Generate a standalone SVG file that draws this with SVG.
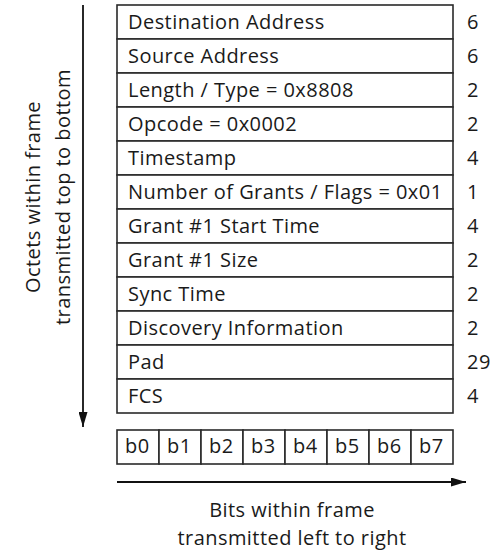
<svg xmlns="http://www.w3.org/2000/svg" width="493" height="550" viewBox="0 0 493 550">
  <style>
    .lbl { font-family: "Open Sans", "Liberation Sans", sans-serif; font-size: 20px; fill: #1a1a1a; letter-spacing: 0.45px; }
    .cell { fill: #ffffff; stroke: #2a2a2a; stroke-width: 1.6; }
    .axis { stroke: #111111; stroke-width: 1.8; fill: none; }
  </style>
  <defs>
    <marker id="head" viewBox="0 0 15 9" refX="15" refY="4.5" markerWidth="15" markerHeight="9" markerUnits="userSpaceOnUse" orient="auto">
      <path d="M0,0 L15,4.5 L0,9 Z" fill="#111111"/>
    </marker>
  </defs>

  <!-- frame fields, top to bottom, with octet counts -->
  <g id="field-destination-address"><rect class="cell" x="117" y="5" width="336" height="34"/><text class="lbl" x="128" y="29">Destination Address</text><text class="lbl" x="467" y="29">6</text></g>
  <g id="field-source-address"><rect class="cell" x="117" y="39" width="336" height="34"/><text class="lbl" x="128" y="63">Source Address</text><text class="lbl" x="467" y="63">6</text></g>
  <g id="field-length-type"><rect class="cell" x="117" y="73" width="336" height="34"/><text class="lbl" x="128" y="97">Length / Type = 0x8808</text><text class="lbl" x="467" y="97">2</text></g>
  <g id="field-opcode"><rect class="cell" x="117" y="107" width="336" height="34"/><text class="lbl" x="128" y="131">Opcode = 0x0002</text><text class="lbl" x="467" y="131">2</text></g>
  <g id="field-timestamp"><rect class="cell" x="117" y="141" width="336" height="34"/><text class="lbl" x="128" y="165">Timestamp</text><text class="lbl" x="467" y="165">4</text></g>
  <g id="field-grants-flags"><rect class="cell" x="117" y="175" width="336" height="34"/><text class="lbl" x="128" y="199">Number of Grants / Flags = 0x01</text><text class="lbl" x="467" y="199">1</text></g>
  <g id="field-grant1-start"><rect class="cell" x="117" y="209" width="336" height="34"/><text class="lbl" x="128" y="233">Grant #1 Start Time</text><text class="lbl" x="467" y="233">4</text></g>
  <g id="field-grant1-size"><rect class="cell" x="117" y="243" width="336" height="34"/><text class="lbl" x="128" y="267">Grant #1 Size</text><text class="lbl" x="467" y="267">2</text></g>
  <g id="field-sync-time"><rect class="cell" x="117" y="277" width="336" height="34"/><text class="lbl" x="128" y="301">Sync Time</text><text class="lbl" x="467" y="301">2</text></g>
  <g id="field-discovery-info"><rect class="cell" x="117" y="311" width="336" height="34"/><text class="lbl" x="128" y="335">Discovery Information</text><text class="lbl" x="467" y="335">2</text></g>
  <g id="field-pad"><rect class="cell" x="117" y="345" width="336" height="34"/><text class="lbl" x="128" y="369">Pad</text><text class="lbl" x="467" y="369">29</text></g>
  <g id="field-fcs"><rect class="cell" x="117" y="379" width="336" height="34"/><text class="lbl" x="128" y="403">FCS</text><text class="lbl" x="467" y="403">4</text></g>

  <!-- bit order row -->
  <g id="bits">
    <rect class="cell" x="117" y="430" width="42" height="34"/><text class="lbl" x="125" y="453">b0</text>
    <rect class="cell" x="159" y="430" width="42" height="34"/><text class="lbl" x="167" y="453">b1</text>
    <rect class="cell" x="201" y="430" width="42" height="34"/><text class="lbl" x="209" y="453">b2</text>
    <rect class="cell" x="243" y="430" width="42" height="34"/><text class="lbl" x="251" y="453">b3</text>
    <rect class="cell" x="285" y="430" width="42" height="34"/><text class="lbl" x="293" y="453">b4</text>
    <rect class="cell" x="327" y="430" width="42" height="34"/><text class="lbl" x="335" y="453">b5</text>
    <rect class="cell" x="369" y="430" width="42" height="34"/><text class="lbl" x="377" y="453">b6</text>
    <rect class="cell" x="411" y="430" width="42" height="34"/><text class="lbl" x="419" y="453">b7</text>
  </g>

  <!-- transmission-order arrows -->
  <g id="connectors">
    <line class="axis" x1="83" y1="5" x2="83" y2="427" marker-end="url(#head)"/>
    <line class="axis" x1="117" y1="482" x2="466" y2="482" marker-end="url(#head)"/>
  </g>

  <g id="octet-order-label">
    <text class="lbl" text-anchor="middle" transform="translate(40,197) rotate(-90)">Octets within frame</text>
    <text class="lbl" text-anchor="middle" transform="translate(70,197) rotate(-90)">transmitted top to bottom</text>
  </g>
  <g id="bit-order-label">
    <text class="lbl" text-anchor="middle" x="292" y="517">Bits within frame</text>
    <text class="lbl" text-anchor="middle" x="292" y="545">transmitted left to right</text>
  </g>
</svg>
